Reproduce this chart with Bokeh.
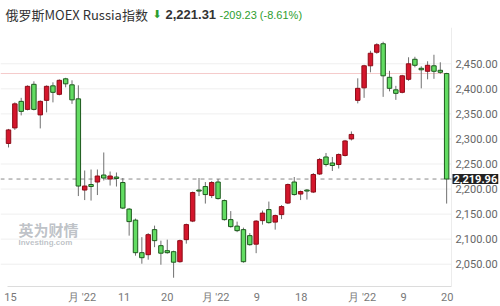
from bokeh.plotting import figure
from bokeh.models import Range1d, FixedTicker, NumeralTickFormatter, Label, ColumnDataSource
from bokeh.embed import file_html
from bokeh.resources import INLINE

# ---- data ----
opens = [2291, 2322, 2375, 2359, 2409, 2348, 2377, 2406, 2389, 2420,
         2408, 2380, 2198, 2209, 2214, 2228, 2220, 2224, 2213, 2160,
         2138, 2073, 2069, 2119, 2087, 2077, 2075, 2055, 2099, 2136,
         2198, 2205, 2187, 2214, 2177, 2139, 2126, 2119, 2107, 2090,
         2137, 2159, 2134, 2149, 2172, 2214, 2190, 2198, 2194, 2230,
         2264, 2252, 2249, 2267, 2300, 2377, 2402, 2446, 2473, 2490,
         2423, 2398, 2393, 2419, 2459, 2441, 2435, 2446, 2437, 2430.5]
highs = [2320, 2373, 2382, 2407, 2415, 2377, 2407, 2413, 2419, 2422,
         2417, 2407, 2237, 2239, 2239, 2273, 2235, 2233, 2222, 2162,
         2141, 2104, 2112, 2127, 2097, 2099, 2077, 2099, 2131, 2195,
         2222, 2214, 2216, 2220, 2179, 2156, 2135, 2123, 2112, 2138,
         2157, 2175, 2149, 2168, 2211, 2224, 2197, 2200, 2232, 2262,
         2272, 2264, 2271, 2298, 2315, 2421, 2448, 2476, 2491, 2494,
         2436, 2406, 2428, 2463, 2464, 2445, 2455, 2468, 2453, 2432]
lows = [2283, 2318, 2347, 2357, 2357, 2321, 2353, 2373, 2387, 2403,
        2370, 2186, 2178, 2177, 2188, 2217, 2207, 2205, 2160, 2107,
        2067, 2051, 2059, 2084, 2049, 2071, 2023, 2053, 2091, 2134,
        2186, 2171, 2182, 2179, 2137, 2123, 2114, 2053, 2087, 2072,
        2129, 2131, 2119, 2140, 2170, 2187, 2178, 2179, 2192, 2228,
        2245, 2236, 2241, 2265, 2297, 2371, 2382, 2433, 2470, 2384,
        2395, 2378, 2391, 2416, 2443, 2401, 2419, 2420, 2430, 2171]
closes = [2318, 2370, 2355, 2405, 2359, 2375, 2405, 2393, 2417, 2410,
          2378, 2206, 2206, 2205, 2226, 2222, 2226, 2221, 2162, 2135,
          2073, 2063, 2109, 2097, 2072, 2073, 2054, 2097, 2129, 2193,
          2196, 2189, 2213, 2181, 2139, 2125, 2117, 2055, 2089, 2136,
          2152, 2133, 2147, 2165, 2209, 2189, 2195, 2196, 2229, 2259,
          2249, 2247, 2269, 2296, 2309, 2401, 2446, 2471, 2488, 2426,
          2401, 2391, 2426, 2450, 2447, 2438, 2447, 2435, 2433, 2219.96]

x_tick_pos = [0.3, 11.6, 18.2, 25, 32.6, 39.1, 46.1, 55.7, 62.2, 69.1]
x_tick_labels = ["15", "月 '22", "11", "20", "月 '22", "9", "18", "月 '22", "9", "20"]
y_ticks = [2050, 2100, 2150, 2200, 2250, 2300, 2350, 2400, 2450]

prev_close = 2430.54
last_price = 2219.96
title_name = "俄罗斯MOEX Russia指数"
title_price = "2,221.31"
title_change = "-209.23 (-8.61%)"

# ---- layout constants ----
X_LO, X_HI, X_MAX = -1.26, 69.76, 77.48     # frame left, plot-area right edge, canvas right
Y_LO, Y_TOP, Y_MAX = 2005.5, 2522.0, 2576.3  # frame bottom, plot-area top, canvas top

UP_FILL, UP_LINE = "#d4162c", "#8e0c18"
DN_FILL, DN_LINE = "#62dc62", "#1d5a1d"

idx = list(range(len(opens)))
up = [c >= o for o, c in zip(opens, closes)]
src = ColumnDataSource(dict(
    x=idx,
    top=[max(o, c) for o, c in zip(opens, closes)],
    bottom=[min(o, c) for o, c in zip(opens, closes)],
    high=highs, low=lows,
    fill=[UP_FILL if u else DN_FILL for u in up],
    line=[UP_LINE if u else DN_LINE for u in up],
))

p = figure(width=500, height=306, output_backend="svg", toolbar_location=None,
           x_range=Range1d(X_LO, X_MAX), y_range=Range1d(Y_LO, Y_MAX),
           y_axis_location="right",
           min_border_left=0, min_border_right=0, min_border_top=0, min_border_bottom=20)
p.outline_line_color = None
p.background_fill_color = "white"
p.border_fill_color = "white"
p.xgrid.visible = False
p.ygrid.visible = False

# horizontal grid lines at the price ticks, limited to the plot area
p.segment(x0=[X_LO] * len(y_ticks), x1=[X_HI] * len(y_ticks), y0=y_ticks, y1=y_ticks,
          line_color="#efefef", line_width=1)
# right edge of the plot area
p.segment(x0=[X_HI], x1=[X_HI], y0=[Y_LO], y1=[Y_TOP], line_color="#ececec", line_width=1)

# axes
xa = p.xaxis[0]
xa.ticker = FixedTicker(ticks=x_tick_pos)
xa.major_label_overrides = {t: l for t, l in zip(x_tick_pos, x_tick_labels)}
xa.bounds = (-0.16, X_HI)
xa.axis_line_color = "#dcdcdc"
xa.major_tick_line_color = None
xa.minor_tick_line_color = None
xa.major_tick_out = 0
xa.major_tick_in = 0
xa.major_label_text_font = "Roboto"
xa.major_label_text_font_size = "11px"
xa.major_label_text_color = "#777777"
xa.major_label_standoff = 4

ya = p.yaxis[0]
ya.fixed_location = X_HI
ya.ticker = FixedTicker(ticks=y_ticks)
ya.formatter = NumeralTickFormatter(format="0,0.00")
ya.axis_line_color = None
ya.major_tick_line_color = None
ya.minor_tick_line_color = None
ya.major_tick_out = 0
ya.major_tick_in = 0
ya.major_label_text_font = "Roboto"
ya.major_label_text_font_size = "11px"
ya.major_label_text_color = "#666666"
ya.major_label_standoff = 4

# reference lines (previous close, last price)
p.segment(x0=[X_LO], x1=[len(opens) - 1], y0=[prev_close], y1=[prev_close],
          line_color="#f5caca", line_width=1)
p.segment(x0=[X_LO], x1=[X_HI], y0=[last_price], y1=[last_price],
          line_color="#8a8a8a", line_width=1, line_dash="4 4")

# candles
p.segment(x0="x", y0="high", x1="x", y1="low", source=src, line_color="#707070", line_width=1)
p.vbar(x="x", width=0.7, top="top", bottom="bottom", source=src,
       fill_color="fill", line_color="line", line_width=1)

# watermark (screen units: frame bottom is canvas y=286)
p.add_layout(Label(x=18, y=286 - 229, x_units="screen", y_units="screen", text="英为财情",
                   text_font="Noto Sans CJK SC", text_font_style="bold", text_font_size="15px",
                   text_color="#9aa0a8", text_alpha=0.65, text_baseline="middle"))
p.add_layout(Label(x=18, y=286 - 242, x_units="screen", y_units="screen", text="Investing.com",
                   text_font="Liberation Sans", text_font_style="bold", text_font_size="8px",
                   text_color="#9aa0a8", text_alpha=0.65, text_baseline="middle"))

# header
p.add_layout(Label(x=5, y=286 - 14, x_units="screen", y_units="screen", text=title_name,
                   text_font="Noto Sans CJK SC", text_font_size="13px", text_color="#333333",
                   text_baseline="middle"))
p.add_layout(Label(x=152, y=286 - 14, x_units="screen", y_units="screen", text="⬇",
                   text_font="DejaVu Sans", text_font_size="11px", text_color="#2e9e2e",
                   text_baseline="middle"))
p.add_layout(Label(x=165, y=286 - 14, x_units="screen", y_units="screen", text=title_price,
                   text_font="Liberation Sans", text_font_style="bold", text_font_size="13px",
                   text_color="#333333", text_baseline="middle"))
p.add_layout(Label(x=219, y=286 - 14, x_units="screen", y_units="screen", text=title_change,
                   text_font="Liberation Sans", text_font_size="11px", text_color="#2e9e2e",
                   text_baseline="middle"))

# last price tag on the axis
p.add_layout(Label(x=X_HI, y=last_price, x_offset=1, text="2,219.96",
                   text_font="Roboto", text_font_size="11px", text_font_style="bold",
                   text_color="white", text_baseline="middle",
                   background_fill_color="#222222", padding=1))

open("out.html", "w").write(file_html(p, INLINE))
